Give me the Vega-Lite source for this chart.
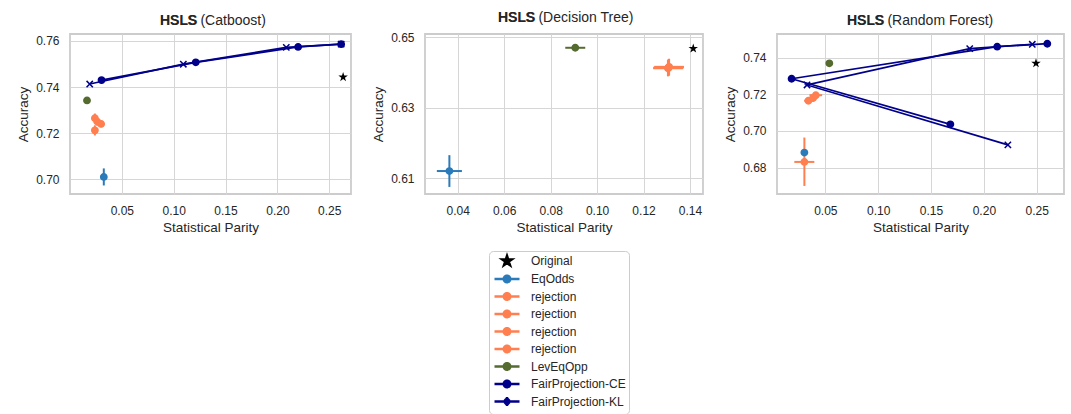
{
  "$schema": "https://vega.github.io/schema/vega-lite/v6.json",
  "padding": {"left": 15, "top": 10, "right": 0, "bottom": 0},
  "background": "white",
  "config": {
    "font": "Liberation Sans",
    "view": {"stroke": "#cccccc", "strokeWidth": 1.8},
    "axis": {"grid": true, "gridColor": "#d6d6d6", "gridWidth": 1, "domain": false, "ticks": false, "tickSize": 0, "labelPadding": 11, "labelFontSize": 12, "labelColor": "#262626", "labelFont": "Liberation Sans", "labelFlush": false, "titleFont": "Liberation Sans", "titleFontSize": 13.5, "titleFontWeight": "normal", "titleColor": "#262626", "titlePadding": 4},
    "axisY": {"titlePadding": 5},
    "title": {"anchor": "start", "frame": "group", "fontSize": 14, "fontWeight": "normal", "subtitleFontSize": 14, "subtitleFontWeight": "bold", "subtitlePadding": -14, "offset": 6, "color": "#262626", "subtitleColor": "#262626", "font": "Liberation Sans", "subtitleFont": "Liberation Sans"}
  },
  "datasets": {
    "pts": [
      {"panel": "Catboost", "method": "Original", "step": 1, "sp": 0.2634, "acc": 0.7443, "sp_lo": 0.2634, "sp_hi": 0.2634, "acc_lo": 0.7443, "acc_hi": 0.7443},
      {"panel": "Catboost", "method": "EqOdds", "step": 1, "sp": 0.0326, "acc": 0.7010, "sp_lo": 0.0296, "sp_hi": 0.0356, "acc_lo": 0.6973, "acc_hi": 0.7047},
      {"panel": "Catboost", "method": "rejection_1", "step": 1, "sp": 0.0240, "acc": 0.7265, "sp_lo": 0.0215, "sp_hi": 0.0265, "acc_lo": 0.7245, "acc_hi": 0.7285},
      {"panel": "Catboost", "method": "rejection_2", "step": 1, "sp": 0.0262, "acc": 0.7250, "sp_lo": 0.0232, "sp_hi": 0.0292, "acc_lo": 0.7232, "acc_hi": 0.7268},
      {"panel": "Catboost", "method": "rejection_3", "step": 1, "sp": 0.0300, "acc": 0.7240, "sp_lo": 0.0270, "sp_hi": 0.0330, "acc_lo": 0.7225, "acc_hi": 0.7255},
      {"panel": "Catboost", "method": "rejection_4", "step": 1, "sp": 0.0240, "acc": 0.7212, "sp_lo": 0.0215, "sp_hi": 0.0265, "acc_lo": 0.7190, "acc_hi": 0.7234},
      {"panel": "Catboost", "method": "LevEqOpp", "step": 1, "sp": 0.0164, "acc": 0.7342, "sp_lo": 0.0160, "sp_hi": 0.0168, "acc_lo": 0.7338, "acc_hi": 0.7346},
      {"panel": "Catboost", "method": "FairProjection-CE", "step": 1, "sp": 0.0304, "acc": 0.7430, "sp_lo": 0.0304, "sp_hi": 0.0304, "acc_lo": 0.7430, "acc_hi": 0.7430},
      {"panel": "Catboost", "method": "FairProjection-CE", "step": 2, "sp": 0.1213, "acc": 0.7507, "sp_lo": 0.1213, "sp_hi": 0.1213, "acc_lo": 0.7507, "acc_hi": 0.7507},
      {"panel": "Catboost", "method": "FairProjection-CE", "step": 3, "sp": 0.2200, "acc": 0.7574, "sp_lo": 0.2200, "sp_hi": 0.2200, "acc_lo": 0.7574, "acc_hi": 0.7574},
      {"panel": "Catboost", "method": "FairProjection-CE", "step": 4, "sp": 0.2615, "acc": 0.7586, "sp_lo": 0.2615, "sp_hi": 0.2615, "acc_lo": 0.7586, "acc_hi": 0.7586},
      {"panel": "Catboost", "method": "FairProjection-KL", "step": 1, "sp": 0.0190, "acc": 0.7413, "sp_lo": 0.0190, "sp_hi": 0.0190, "acc_lo": 0.7413, "acc_hi": 0.7413},
      {"panel": "Catboost", "method": "FairProjection-KL", "step": 2, "sp": 0.1093, "acc": 0.7499, "sp_lo": 0.1093, "sp_hi": 0.1093, "acc_lo": 0.7499, "acc_hi": 0.7499},
      {"panel": "Catboost", "method": "FairProjection-KL", "step": 3, "sp": 0.2086, "acc": 0.7572, "sp_lo": 0.2086, "sp_hi": 0.2086, "acc_lo": 0.7572, "acc_hi": 0.7572},
      {"panel": "Catboost", "method": "FairProjection-KL", "step": 4, "sp": 0.2615, "acc": 0.7586, "sp_lo": 0.2615, "sp_hi": 0.2615, "acc_lo": 0.7586, "acc_hi": 0.7586},

      {"panel": "Decision Tree", "method": "Original", "step": 1, "sp": 0.1414, "acc": 0.6468, "sp_lo": 0.1414, "sp_hi": 0.1414, "acc_lo": 0.6468, "acc_hi": 0.6468},
      {"panel": "Decision Tree", "method": "EqOdds", "step": 1, "sp": 0.0364, "acc": 0.6121, "sp_lo": 0.0310, "sp_hi": 0.0418, "acc_lo": 0.6076, "acc_hi": 0.6166},
      {"panel": "Decision Tree", "method": "rejection_1", "step": 1, "sp": 0.1308, "acc": 0.6414, "sp_lo": 0.1243, "sp_hi": 0.1373, "acc_lo": 0.6390, "acc_hi": 0.6438},
      {"panel": "Decision Tree", "method": "rejection_2", "step": 1, "sp": 0.1305, "acc": 0.6412, "sp_lo": 0.1241, "sp_hi": 0.1369, "acc_lo": 0.6389, "acc_hi": 0.6435},
      {"panel": "Decision Tree", "method": "rejection_3", "step": 1, "sp": 0.1310, "acc": 0.6416, "sp_lo": 0.1246, "sp_hi": 0.1374, "acc_lo": 0.6393, "acc_hi": 0.6439},
      {"panel": "Decision Tree", "method": "rejection_4", "step": 1, "sp": 0.1307, "acc": 0.6413, "sp_lo": 0.1244, "sp_hi": 0.1370, "acc_lo": 0.6390, "acc_hi": 0.6436},
      {"panel": "Decision Tree", "method": "LevEqOpp", "step": 1, "sp": 0.0906, "acc": 0.6470, "sp_lo": 0.0863, "sp_hi": 0.0949, "acc_lo": 0.6464, "acc_hi": 0.6476},

      {"panel": "Random Forest", "method": "Original", "step": 1, "sp": 0.2493, "acc": 0.7369, "sp_lo": 0.2493, "sp_hi": 0.2493, "acc_lo": 0.7369, "acc_hi": 0.7369},
      {"panel": "Random Forest", "method": "EqOdds", "step": 1, "sp": 0.0302, "acc": 0.6882, "sp_lo": 0.0290, "sp_hi": 0.0314, "acc_lo": 0.6875, "acc_hi": 0.6889},
      {"panel": "Random Forest", "method": "rejection_1", "step": 1, "sp": 0.0302, "acc": 0.6831, "sp_lo": 0.0207, "sp_hi": 0.0396, "acc_lo": 0.6700, "acc_hi": 0.6964},
      {"panel": "Random Forest", "method": "rejection_2", "step": 1, "sp": 0.0340, "acc": 0.7165, "sp_lo": 0.0300, "sp_hi": 0.0380, "acc_lo": 0.7145, "acc_hi": 0.7185},
      {"panel": "Random Forest", "method": "rejection_3", "step": 1, "sp": 0.0385, "acc": 0.7180, "sp_lo": 0.0345, "sp_hi": 0.0425, "acc_lo": 0.7160, "acc_hi": 0.7200},
      {"panel": "Random Forest", "method": "rejection_4", "step": 1, "sp": 0.0410, "acc": 0.7195, "sp_lo": 0.0350, "sp_hi": 0.0470, "acc_lo": 0.7178, "acc_hi": 0.7212},
      {"panel": "Random Forest", "method": "LevEqOpp", "step": 1, "sp": 0.0538, "acc": 0.7369, "sp_lo": 0.0538, "sp_hi": 0.0538, "acc_lo": 0.7369, "acc_hi": 0.7369},
      {"panel": "Random Forest", "method": "FairProjection-CE", "step": 1, "sp": 0.1683, "acc": 0.7036, "sp_lo": 0.1683, "sp_hi": 0.1683, "acc_lo": 0.7036, "acc_hi": 0.7036},
      {"panel": "Random Forest", "method": "FairProjection-CE", "step": 2, "sp": 0.0181, "acc": 0.7285, "sp_lo": 0.0181, "sp_hi": 0.0181, "acc_lo": 0.7285, "acc_hi": 0.7285},
      {"panel": "Random Forest", "method": "FairProjection-CE", "step": 3, "sp": 0.2126, "acc": 0.7460, "sp_lo": 0.2126, "sp_hi": 0.2126, "acc_lo": 0.7460, "acc_hi": 0.7460},
      {"panel": "Random Forest", "method": "FairProjection-CE", "step": 4, "sp": 0.2600, "acc": 0.7476, "sp_lo": 0.2600, "sp_hi": 0.2600, "acc_lo": 0.7476, "acc_hi": 0.7476},
      {"panel": "Random Forest", "method": "FairProjection-KL", "step": 1, "sp": 0.2227, "acc": 0.6924, "sp_lo": 0.2227, "sp_hi": 0.2227, "acc_lo": 0.6924, "acc_hi": 0.6924},
      {"panel": "Random Forest", "method": "FairProjection-KL", "step": 2, "sp": 0.0327, "acc": 0.7251, "sp_lo": 0.0327, "sp_hi": 0.0327, "acc_lo": 0.7251, "acc_hi": 0.7251},
      {"panel": "Random Forest", "method": "FairProjection-KL", "step": 3, "sp": 0.1866, "acc": 0.7449, "sp_lo": 0.1866, "sp_hi": 0.1866, "acc_lo": 0.7449, "acc_hi": 0.7449},
      {"panel": "Random Forest", "method": "FairProjection-KL", "step": 4, "sp": 0.2458, "acc": 0.7473, "sp_lo": 0.2458, "sp_hi": 0.2458, "acc_lo": 0.7473, "acc_hi": 0.7473}
    ],
    "legend": [
      {"method": "Original"}, {"method": "EqOdds"}, {"method": "rejection_1"}, {"method": "rejection_2"}, {"method": "rejection_3"}, {"method": "rejection_4"}, {"method": "LevEqOpp"}, {"method": "FairProjection-CE"}, {"method": "FairProjection-KL"}
    ]
  },
  "resolve": {"scale": {"shape": "independent", "color": "independent", "stroke": "independent"}},
  "spacing": 10,
  "vconcat": [
    {
      "spacing": 18,
      "hconcat": [
        {
          "width": 281, "height": 160,
          "title": {"text": "HSLS (Catboost)", "subtitle": "HSLS", "dx": 90},
          "data": {"name": "pts"},
          "transform": [{"filter": "datum.panel === 'Catboost'"}],
          "layer": [
            {"mark": {"type": "rule", "strokeWidth": 2},
             "encoding": {
               "x": {"field": "sp_lo", "type": "quantitative", "title": "Statistical Parity", "scale": {"domain": [0.0, 0.271], "nice": false, "zero": false}, "axis": {"values": [0.05, 0.1, 0.15, 0.2, 0.25], "format": ".2f"}},
               "x2": {"field": "sp_hi"},
               "y": {"field": "acc", "type": "quantitative", "title": "Accuracy", "scale": {"domain": [0.6936, 0.763], "nice": false, "zero": false}, "axis": {"values": [0.70, 0.72, 0.74, 0.76], "format": ".2f"}},
               "color": {"field": "method", "type": "nominal", "legend": null, "scale": {"domain": ["Original", "EqOdds", "rejection_1", "rejection_2", "rejection_3", "rejection_4", "LevEqOpp", "FairProjection-CE", "FairProjection-KL"], "range": ["#000000", "#2b7bba", "#ff7f50", "#ff7f50", "#ff7f50", "#ff7f50", "#556b2f", "#00008b", "#00008b"]}}
             }},
            {"mark": {"type": "rule", "strokeWidth": 2},
             "encoding": {
               "x": {"field": "sp", "type": "quantitative", "title": "Statistical Parity"},
               "y": {"field": "acc_lo", "type": "quantitative", "title": "Accuracy"},
               "y2": {"field": "acc_hi"},
               "color": {"field": "method", "type": "nominal", "legend": null}
             }},
            {"transform": [{"filter": "indexof(datum.method, 'FairProjection') === 0"}],
             "mark": {"type": "line", "strokeWidth": 1.7},
             "encoding": {
               "x": {"field": "sp", "type": "quantitative", "title": "Statistical Parity"},
               "y": {"field": "acc", "type": "quantitative", "title": "Accuracy"},
               "detail": {"field": "method"},
               "order": {"field": "step", "type": "quantitative"},
               "color": {"field": "method", "type": "nominal", "legend": null}
             }},
            {"transform": [{"filter": "datum.method !== 'Original'"}],
             "mark": {"type": "point", "filled": true, "opacity": 1, "size": 40, "strokeWidth": 1.5},
             "encoding": {
               "x": {"field": "sp", "type": "quantitative", "title": "Statistical Parity"},
               "y": {"field": "acc", "type": "quantitative", "title": "Accuracy"},
               "color": {"field": "method", "type": "nominal", "legend": null},
               "stroke": {"field": "method", "type": "nominal", "legend": null, "scale": {"domain": ["Original", "EqOdds", "rejection_1", "rejection_2", "rejection_3", "rejection_4", "LevEqOpp", "FairProjection-CE", "FairProjection-KL"], "range": ["#000000", "#2b7bba", "#ff7f50", "#ff7f50", "#ff7f50", "#ff7f50", "#556b2f", "#00008b", "#00008b"]}},
               "shape": {"field": "method", "type": "nominal", "legend": null, "scale": {"domain": ["Original", "EqOdds", "rejection_1", "rejection_2", "rejection_3", "rejection_4", "LevEqOpp", "FairProjection-CE", "FairProjection-KL"], "range": ["circle", "circle", "circle", "circle", "circle", "circle", "circle", "circle", "M-1,-1L1,1M-1,1L1,-1"]}}
             }},
            {"transform": [{"filter": "datum.method === 'Original'"}],
             "mark": {"type": "point", "filled": true, "opacity": 1, "size": 100, "color": "#000000", "shape": "M0,-1L0.2245,-0.309L0.951,-0.309L0.363,0.118L0.588,0.809L0,0.382L-0.588,0.809L-0.363,0.118L-0.951,-0.309L-0.2245,-0.309Z"},
             "encoding": {
               "x": {"field": "sp", "type": "quantitative", "title": "Statistical Parity"},
               "y": {"field": "acc", "type": "quantitative", "title": "Accuracy"}
             }}
          ]
        },
        {
          "width": 278, "height": 160,
          "title": {"text": "HSLS (Decision Tree)", "subtitle": "HSLS", "dx": 73},
          "data": {"name": "pts"},
          "transform": [{"filter": "datum.panel === 'Decision Tree'"}],
          "layer": [
            {"mark": {"type": "rule", "strokeWidth": 2},
             "encoding": {
               "x": {"field": "sp_lo", "type": "quantitative", "title": "Statistical Parity", "scale": {"domain": [0.0259, 0.1456], "nice": false, "zero": false}, "axis": {"values": [0.04, 0.06, 0.08, 0.10, 0.12, 0.14], "format": ".2f"}},
               "x2": {"field": "sp_hi"},
               "y": {"field": "acc", "type": "quantitative", "title": "Accuracy", "scale": {"domain": [0.6056, 0.6509], "nice": false, "zero": false}, "axis": {"values": [0.61, 0.62, 0.63, 0.64, 0.65], "format": ".2f"}},
               "color": {"field": "method", "type": "nominal", "legend": null}
             }},
            {"mark": {"type": "rule", "strokeWidth": 2},
             "encoding": {
               "x": {"field": "sp", "type": "quantitative", "title": "Statistical Parity"},
               "y": {"field": "acc_lo", "type": "quantitative", "title": "Accuracy"},
               "y2": {"field": "acc_hi"},
               "color": {"field": "method", "type": "nominal", "legend": null}
             }},
            {"transform": [{"filter": "datum.method !== 'Original'"}],
             "mark": {"type": "point", "filled": true, "opacity": 1, "size": 40, "strokeWidth": 1.5},
             "encoding": {
               "x": {"field": "sp", "type": "quantitative", "title": "Statistical Parity"},
               "y": {"field": "acc", "type": "quantitative", "title": "Accuracy"},
               "color": {"field": "method", "type": "nominal", "legend": null},
               "stroke": {"field": "method", "type": "nominal", "legend": null},
               "shape": {"field": "method", "type": "nominal", "legend": null}
             }},
            {"transform": [{"filter": "datum.method === 'Original'"}],
             "mark": {"type": "point", "filled": true, "opacity": 1, "size": 100, "color": "#000000", "shape": "M0,-1L0.2245,-0.309L0.951,-0.309L0.363,0.118L0.588,0.809L0,0.382L-0.588,0.809L-0.363,0.118L-0.951,-0.309L-0.2245,-0.309Z"},
             "encoding": {
               "x": {"field": "sp", "type": "quantitative", "title": "Statistical Parity"},
               "y": {"field": "acc", "type": "quantitative", "title": "Accuracy"}
             }}
          ]
        },
        {
          "width": 287, "height": 160,
          "title": {"text": "HSLS (Random Forest)", "subtitle": "HSLS", "dx": 70},
          "data": {"name": "pts"},
          "transform": [{"filter": "datum.panel === 'Random Forest'"}],
          "layer": [
            {"mark": {"type": "rule", "strokeWidth": 2},
             "encoding": {
               "x": {"field": "sp_lo", "type": "quantitative", "title": "Statistical Parity", "scale": {"domain": [0.0043, 0.2758], "nice": false, "zero": false}, "axis": {"values": [0.05, 0.1, 0.15, 0.2, 0.25], "format": ".2f"}},
               "x2": {"field": "sp_hi"},
               "y": {"field": "acc", "type": "quantitative", "title": "Accuracy", "scale": {"domain": [0.6656, 0.7529], "nice": false, "zero": false}, "axis": {"values": [0.68, 0.70, 0.72, 0.74], "format": ".2f"}},
               "color": {"field": "method", "type": "nominal", "legend": null}
             }},
            {"mark": {"type": "rule", "strokeWidth": 2},
             "encoding": {
               "x": {"field": "sp", "type": "quantitative", "title": "Statistical Parity"},
               "y": {"field": "acc_lo", "type": "quantitative", "title": "Accuracy"},
               "y2": {"field": "acc_hi"},
               "color": {"field": "method", "type": "nominal", "legend": null}
             }},
            {"transform": [{"filter": "indexof(datum.method, 'FairProjection') === 0"}],
             "mark": {"type": "line", "strokeWidth": 1.7},
             "encoding": {
               "x": {"field": "sp", "type": "quantitative", "title": "Statistical Parity"},
               "y": {"field": "acc", "type": "quantitative", "title": "Accuracy"},
               "detail": {"field": "method"},
               "order": {"field": "step", "type": "quantitative"},
               "color": {"field": "method", "type": "nominal", "legend": null}
             }},
            {"transform": [{"filter": "datum.method !== 'Original'"}],
             "mark": {"type": "point", "filled": true, "opacity": 1, "size": 40, "strokeWidth": 1.5},
             "encoding": {
               "x": {"field": "sp", "type": "quantitative", "title": "Statistical Parity"},
               "y": {"field": "acc", "type": "quantitative", "title": "Accuracy"},
               "color": {"field": "method", "type": "nominal", "legend": null},
               "stroke": {"field": "method", "type": "nominal", "legend": null},
               "shape": {"field": "method", "type": "nominal", "legend": null}
             }},
            {"transform": [{"filter": "datum.method === 'Original'"}],
             "mark": {"type": "point", "filled": true, "opacity": 1, "size": 100, "color": "#000000", "shape": "M0,-1L0.2245,-0.309L0.951,-0.309L0.363,0.118L0.588,0.809L0,0.382L-0.588,0.809L-0.363,0.118L-0.951,-0.309L-0.2245,-0.309Z"},
             "encoding": {
               "x": {"field": "sp", "type": "quantitative", "title": "Statistical Parity"},
               "y": {"field": "acc", "type": "quantitative", "title": "Accuracy"}
             }}
          ]
        }
      ]
    },
    {
      "width": 1, "height": 1,
      "view": {"stroke": null},
      "data": {"name": "legend"},
      "mark": {"type": "point", "filled": true, "opacity": 0},
      "encoding": {
        "color": {"field": "method", "type": "nominal",
          "scale": {"domain": ["Original", "EqOdds", "rejection_1", "rejection_2", "rejection_3", "rejection_4", "LevEqOpp", "FairProjection-CE", "FairProjection-KL"], "range": ["#000000", "#2b7bba", "#ff7f50", "#ff7f50", "#ff7f50", "#ff7f50", "#556b2f", "#00008b", "#00008b"]},
          "legend": {"orient": "none", "legendX": 419, "legendY": 4, "title": null, "strokeColor": "#cccccc", "fillColor": "#ffffff", "cornerRadius": 4, "padding": 3, "labelFontSize": 12, "labelFont": "Liberation Sans", "labelColor": "#262626", "rowPadding": -1.5, "labelOffset": 26, "symbolSize": 100, "symbolStrokeWidth": 2.5, "symbolOpacity": 1, "labelExpr": "indexof(datum.label, 'rejection') === 0 ? 'rejection' : datum.label"}},
        "stroke": {"field": "method", "type": "nominal",
          "scale": {"domain": ["Original", "EqOdds", "rejection_1", "rejection_2", "rejection_3", "rejection_4", "LevEqOpp", "FairProjection-CE", "FairProjection-KL"], "range": ["#000000", "#2b7bba", "#ff7f50", "#ff7f50", "#ff7f50", "#ff7f50", "#556b2f", "#00008b", "#00008b"]},
          "legend": {"orient": "none", "legendX": 419, "legendY": 4, "title": null, "strokeColor": "#cccccc", "fillColor": "#ffffff", "cornerRadius": 4, "padding": 3, "labelFontSize": 12, "labelFont": "Liberation Sans", "labelColor": "#262626", "rowPadding": -1.5, "labelOffset": 26, "symbolSize": 100, "symbolStrokeWidth": 2.5, "symbolOpacity": 1, "labelExpr": "indexof(datum.label, 'rejection') === 0 ? 'rejection' : datum.label"}},
        "shape": {"field": "method", "type": "nominal",
          "scale": {"domain": ["Original", "EqOdds", "rejection_1", "rejection_2", "rejection_3", "rejection_4", "LevEqOpp", "FairProjection-CE", "FairProjection-KL"], "range": [
            "M1.7,-0.9L1.9245,-0.209L2.651,-0.209L2.063,0.218L2.288,0.909L1.7,0.482L1.112,0.909L1.337,0.218L0.749,-0.209L1.4755,-0.209Z",
            "M-0.8,0L4.2,0M1.7,-0.9L1.7,0.9M1.05,0A0.65,0.65 0 1,1 2.35,0A0.65,0.65 0 1,1 1.05,0",
            "M-0.8,0L4.2,0M1.7,-0.9L1.7,0.9M1.05,0A0.65,0.65 0 1,1 2.35,0A0.65,0.65 0 1,1 1.05,0",
            "M-0.8,0L4.2,0M1.7,-0.9L1.7,0.9M1.05,0A0.65,0.65 0 1,1 2.35,0A0.65,0.65 0 1,1 1.05,0",
            "M-0.8,0L4.2,0M1.7,-0.9L1.7,0.9M1.05,0A0.65,0.65 0 1,1 2.35,0A0.65,0.65 0 1,1 1.05,0",
            "M-0.8,0L4.2,0M1.7,-0.9L1.7,0.9M1.05,0A0.65,0.65 0 1,1 2.35,0A0.65,0.65 0 1,1 1.05,0",
            "M-0.8,0L4.2,0M1.7,-0.9L1.7,0.9M1.05,0A0.65,0.65 0 1,1 2.35,0A0.65,0.65 0 1,1 1.05,0",
            "M-0.8,0L4.2,0M1.7,-0.9L1.7,0.9M1.05,0A0.65,0.65 0 1,1 2.35,0A0.65,0.65 0 1,1 1.05,0",
            "M-0.8,0L4.2,0M1.7,-0.9L1.7,0.9M1.2,-0.5L2.2,0.5M1.2,0.5L2.2,-0.5"]},
          "legend": {"orient": "none", "legendX": 419, "legendY": 4, "title": null, "strokeColor": "#cccccc", "fillColor": "#ffffff", "cornerRadius": 4, "padding": 3, "labelFontSize": 12, "labelFont": "Liberation Sans", "labelColor": "#262626", "rowPadding": -1.5, "labelOffset": 26, "symbolSize": 100, "symbolStrokeWidth": 2.5, "symbolOpacity": 1, "labelExpr": "indexof(datum.label, 'rejection') === 0 ? 'rejection' : datum.label"}}
      }
    }
  ]
}
